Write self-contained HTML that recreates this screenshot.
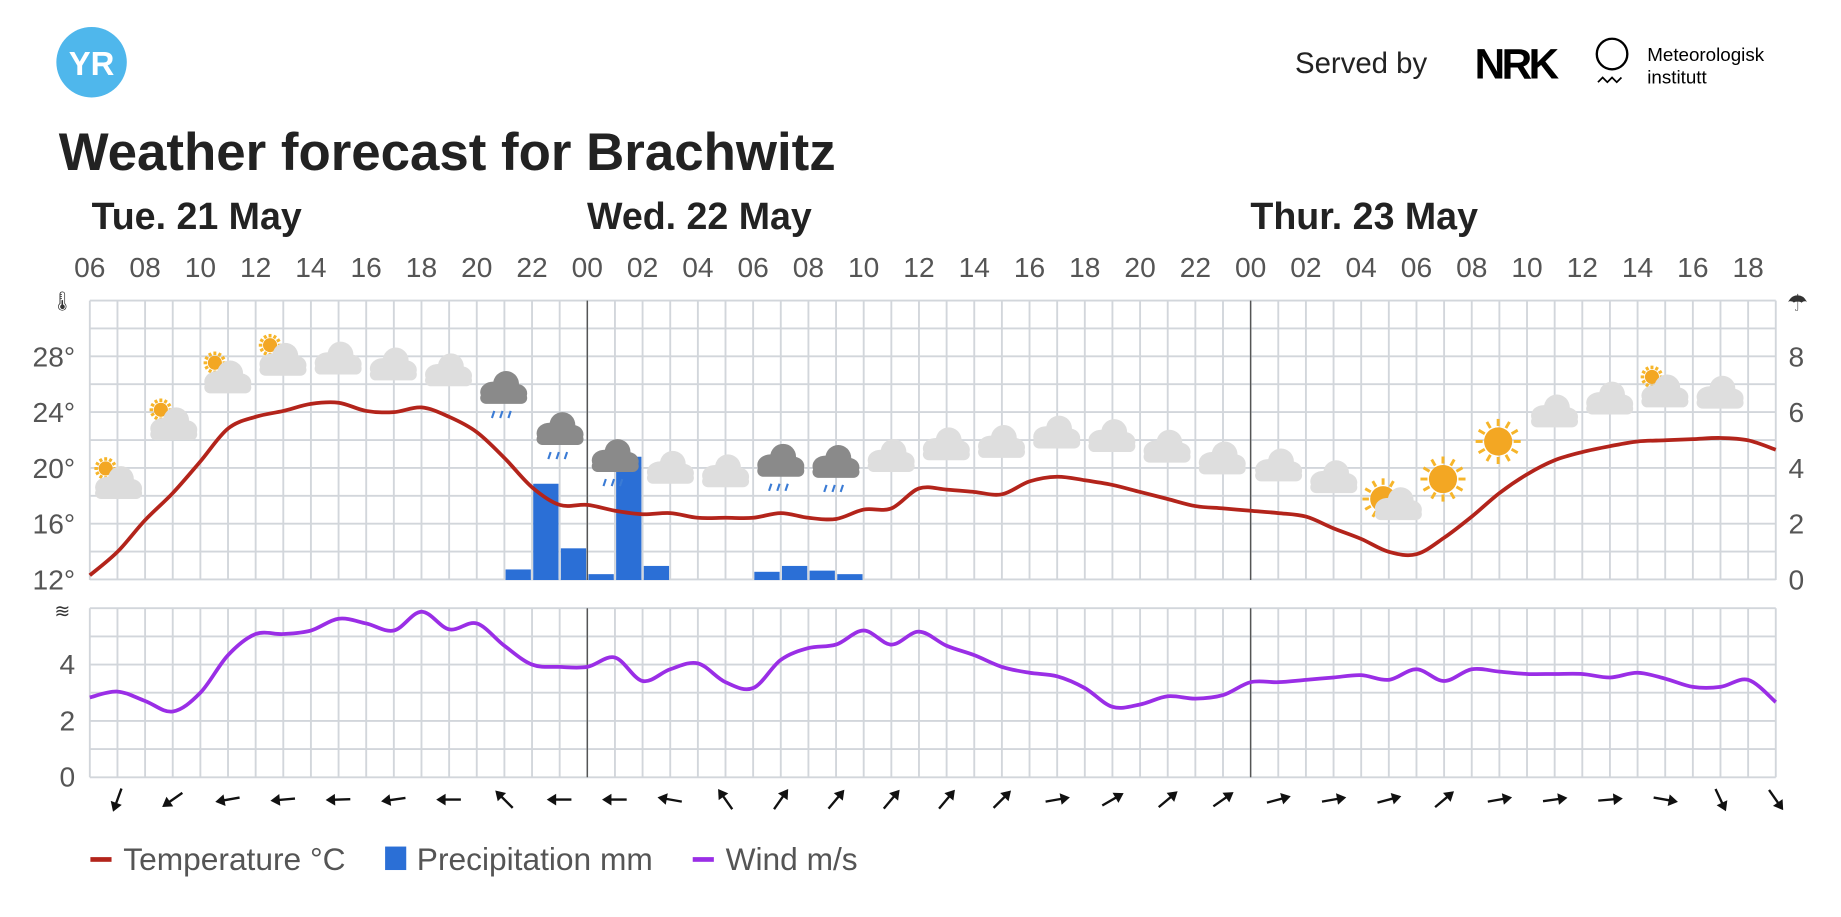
<!DOCTYPE html>
<html><head><meta charset="utf-8"><style>
html,body{margin:0;padding:0;background:#fff;}
svg{display:block;font-family:"Liberation Sans",sans-serif;}
</style></head><body>
<svg id="s" width="1841" height="917" viewBox="0 0 1568 781" preserveAspectRatio="none" xmlns="http://www.w3.org/2000/svg">
<rect width="1568" height="781" fill="#fff"/>
<circle cx="78" cy="53" r="30" fill="#4fb7ec"/>
<text x="78" y="64" text-anchor="middle" font-size="28" font-weight="bold" fill="#fff">YR</text>
<text x="1103" y="62" font-size="25" fill="#222">Served by</text>
<text x="1256" y="67" font-size="36" font-weight="bold" fill="#000" letter-spacing="-3">NRK</text>
<circle cx="1373" cy="46" r="13" fill="none" stroke="#000" stroke-width="2"/>
<path d="M1361 70 l4 -4 l4 4 l4 -4 l4 4 l4 -4" fill="none" stroke="#000" stroke-width="1.5"/>
<text x="1403" y="52" font-size="16" fill="#000">Meteorologisk</text>
<text x="1403" y="71" font-size="16" fill="#000">institutt</text>
<text x="50" y="145" font-size="45" font-weight="bold" fill="#222">Weather forecast for Brachwitz</text>
<text x="78" y="195" font-size="32" font-weight="bold" fill="#222">Tue. 21 May</text>
<text x="500" y="195" font-size="32" font-weight="bold" fill="#222">Wed. 22 May</text>
<text x="1065" y="195" font-size="32" font-weight="bold" fill="#222">Thur. 23 May</text>
<g id="g"></g>
<g font-size="27" fill="#333">
<rect x="77" y="730" width="18" height="4" fill="#b3241b"/>
<text x="105" y="741" fill="#555">Temperature °C</text>
<rect x="328" y="721" width="18" height="20" fill="#2b6fd6"/>
<text x="355" y="741" fill="#555">Precipitation mm</text>
<rect x="590" y="730" width="18" height="4" fill="#9a2ee6"/>
<text x="618" y="741" fill="#555">Wind m/s</text>
</g>
</svg>
<script>
var g=document.getElementById("g"),out="";
var L=76.5,H=23.54,R=L+61*H;
function X(h){return L+h*H;}
for(var y=256;y<=495;y+=23.75)out+='<line x1="'+L+'" x2="'+R+'" y1="'+y+'" y2="'+y+'" stroke="#d2d6db" stroke-width="1.6"/>';
for(var y=518;y<=663;y+=24)out+='<line x1="'+L+'" x2="'+R+'" y1="'+y+'" y2="'+y+'" stroke="#d2d6db" stroke-width="1.6"/>';
for(var h=0;h<=61;h++){var x=X(h);out+='<line x1="'+x+'" x2="'+x+'" y1="256" y2="494" stroke="#d2d6db" stroke-width="1.6"/><line x1="'+x+'" x2="'+x+'" y1="518" y2="662" stroke="#d2d6db" stroke-width="1.6"/>';}
[18,42].forEach(function(h){var x=X(h);out+='<line x1="'+x+'" x2="'+x+'" y1="256" y2="494" stroke="#555" stroke-width="1.2"/><line x1="'+x+'" x2="'+x+'" y1="518" y2="662" stroke="#555" stroke-width="1.2"/>';});
for(var h=0;h<=60;h+=2){var hr=(6+h)%24;out+='<text x="'+X(h)+'" y="236" text-anchor="middle" font-size="24" fill="#555">'+(hr<10?"0":"")+hr+'</text>';}
[[12,494],[16,446.5],[20,399],[24,351.5],[28,304]].forEach(function(a){out+='<text x="64" y="'+(a[1]+8)+'" text-anchor="end" font-size="24" fill="#555">'+a[0]+'°</text>';});
[0,2,4,6,8].forEach(function(v,i){out+='<text x="1530" y="'+(494-i*47.5+8)+'" text-anchor="middle" font-size="24" fill="#555">'+v+'</text>';});
[0,2,4].forEach(function(v,i){out+='<text x="64" y="'+(662-i*48+8)+'" text-anchor="end" font-size="24" fill="#555">'+v+'</text>';});
out+='<text x="53" y="262" text-anchor="middle" font-size="16" fill="#333">🌡</text><text x="1531" y="265" text-anchor="middle" font-size="20" fill="#333">☂</text><text x="53" y="526" text-anchor="middle" font-size="16" fill="#333">≋</text>';
[[15,485],[16,412],[17,467],[18,489],[19,389],[20,482],[24,487],[25,482],[26,486],[27,489]].forEach(function(b){out+='<rect x="'+(X(b[0])+1)+'" y="'+b[1]+'" width="'+(H-2)+'" height="'+(494-b[1])+'" fill="#2b6fd6"/>';});
function curve(ys,col){var p=ys.map(function(y,i){return [X(i),y];});var d="M"+p[0][0]+" "+p[0][1];
for(var i=0;i<p.length-1;i++){var p0=p[Math.max(i-1,0)],p1=p[i],p2=p[i+1],p3=p[Math.min(i+2,p.length-1)];
d+=" C"+(p1[0]+(p2[0]-p0[0])/6)+" "+(p1[1]+(p2[1]-p0[1])/6)+" "+(p2[0]-(p3[0]-p1[0])/6)+" "+(p2[1]-(p3[1]-p1[1])/6)+" "+p2[0]+" "+p2[1];}
return '<path d="'+d+'" fill="none" stroke="'+col+'" stroke-width="3.2" stroke-linejoin="round"/>';}
var T=[490,470,443,420,393,365,355,350,344,343,350,351,347,355,368,390,415,430,430,435,438,437,441,441,441,437,441,442,434,433,416,417,419,421,410,406,409,413,419,425,431,433,435,437,440,450,459,470,472,458,440,420,404,392,385,380,376,375,374,373,375,383];
var W=[594,589,597,606,590,558,540,540,537,527,531,537,521,536,531,550,566,568,568,560,580,570,565,581,586,562,552,549,537,549,538,550,558,568,573,576,586,602,600,593,595,592,581,581,579,577,575,579,570,580,570,572,574,574,574,577,573,578,585,585,579,598];
function cloud(x,y,c){return '<g fill="'+c+'"><ellipse cx="'+(x-8)+'" cy="'+(y+2)+'" rx="11" ry="9"/><ellipse cx="'+(x+3)+'" cy="'+(y-5)+'" rx="11" ry="11"/><ellipse cx="'+(x+12)+'" cy="'+(y+3)+'" rx="9" ry="8"/><rect x="'+(x-19)+'" y="'+(y+2)+'" width="40" height="10" rx="5"/></g>';}
function sun(x,y,r){var s='<g>';for(var a=0;a<360;a+=30){var t=a*Math.PI/180;s+='<line x1="'+(x+Math.cos(t)*r*1.1)+'" y1="'+(y+Math.sin(t)*r*1.1)+'" x2="'+(x+Math.cos(t)*r*1.6)+'" y2="'+(y+Math.sin(t)*r*1.6)+'" stroke="#f6b52a" stroke-width="2.5"/>';}return s+'<circle cx="'+x+'" cy="'+y+'" r="'+r+'" fill="#f3a723"/></g>';}
var ic=[[100,413,"s"],[147,363,"s"],[193,323,"s"],[240,308,"s"],[287,307,"c"],[334,312,"c"],[381,317,"c"],[428,340,"r"],[476,375,"r"],[523,398,"r"],[570,400,"c"],[617,403,"c"],[664,402,"r"],[711,403,"r"],[758,390,"c"],[805,380,"c"],[852,378,"c"],[899,370,"c"],[946,373,"c"],[993,382,"c"],[1040,392,"c"],[1088,398,"c"],[1135,408,"c"],[1182,425,"S"],[1229,408,"u"],[1276,376,"u"],[1323,352,"c"],[1370,341,"c"],[1417,335,"s"],[1464,336,"c"]];
ic.forEach(function(a){var x=a[0],y=a[1];
if(a[2]=="s"){out+=sun(x-10,y-14,6)+cloud(x,y,"#dcdcdc");}
else if(a[2]=="c"){out+=cloud(x,y,"#dedede");}
else if(a[2]=="r"){out+=cloud(x,y-8,"#8a8a8a");for(var k=-1;k<=1;k++)out+='<line x1="'+(x+k*7)+'" y1="'+(y+10)+'" x2="'+(x+k*7-2)+'" y2="'+(y+16)+'" stroke="#3a7bd5" stroke-width="1.8"/>';}
else if(a[2]=="S"){out+=sun(x-4,y,11)+cloud(x+8,y+6,"#dedede");}
else if(a[2]=="u"){out+=sun(x,y,12);}
});
out+=curve(T,"#b3241b")+curve(W,"#9a2ee6");
var ang=[110,145,170,175,178,172,180,225,180,180,190,235,-55,-50,-50,-50,-45,-10,-30,-40,-35,-15,-10,-15,-40,-10,-8,-5,10,65,55];
ang.forEach(function(a,i){var x=X(1+2*i),y=681;out+='<g transform="translate('+x+' '+y+') rotate('+a+')"><line x1="-10" y1="0" x2="9" y2="0" stroke="#111" stroke-width="2"/><path d="M11 0 L3 -5 L3 5 Z" fill="#111"/></g>';});
g.innerHTML=out;
</script>
</body></html>
